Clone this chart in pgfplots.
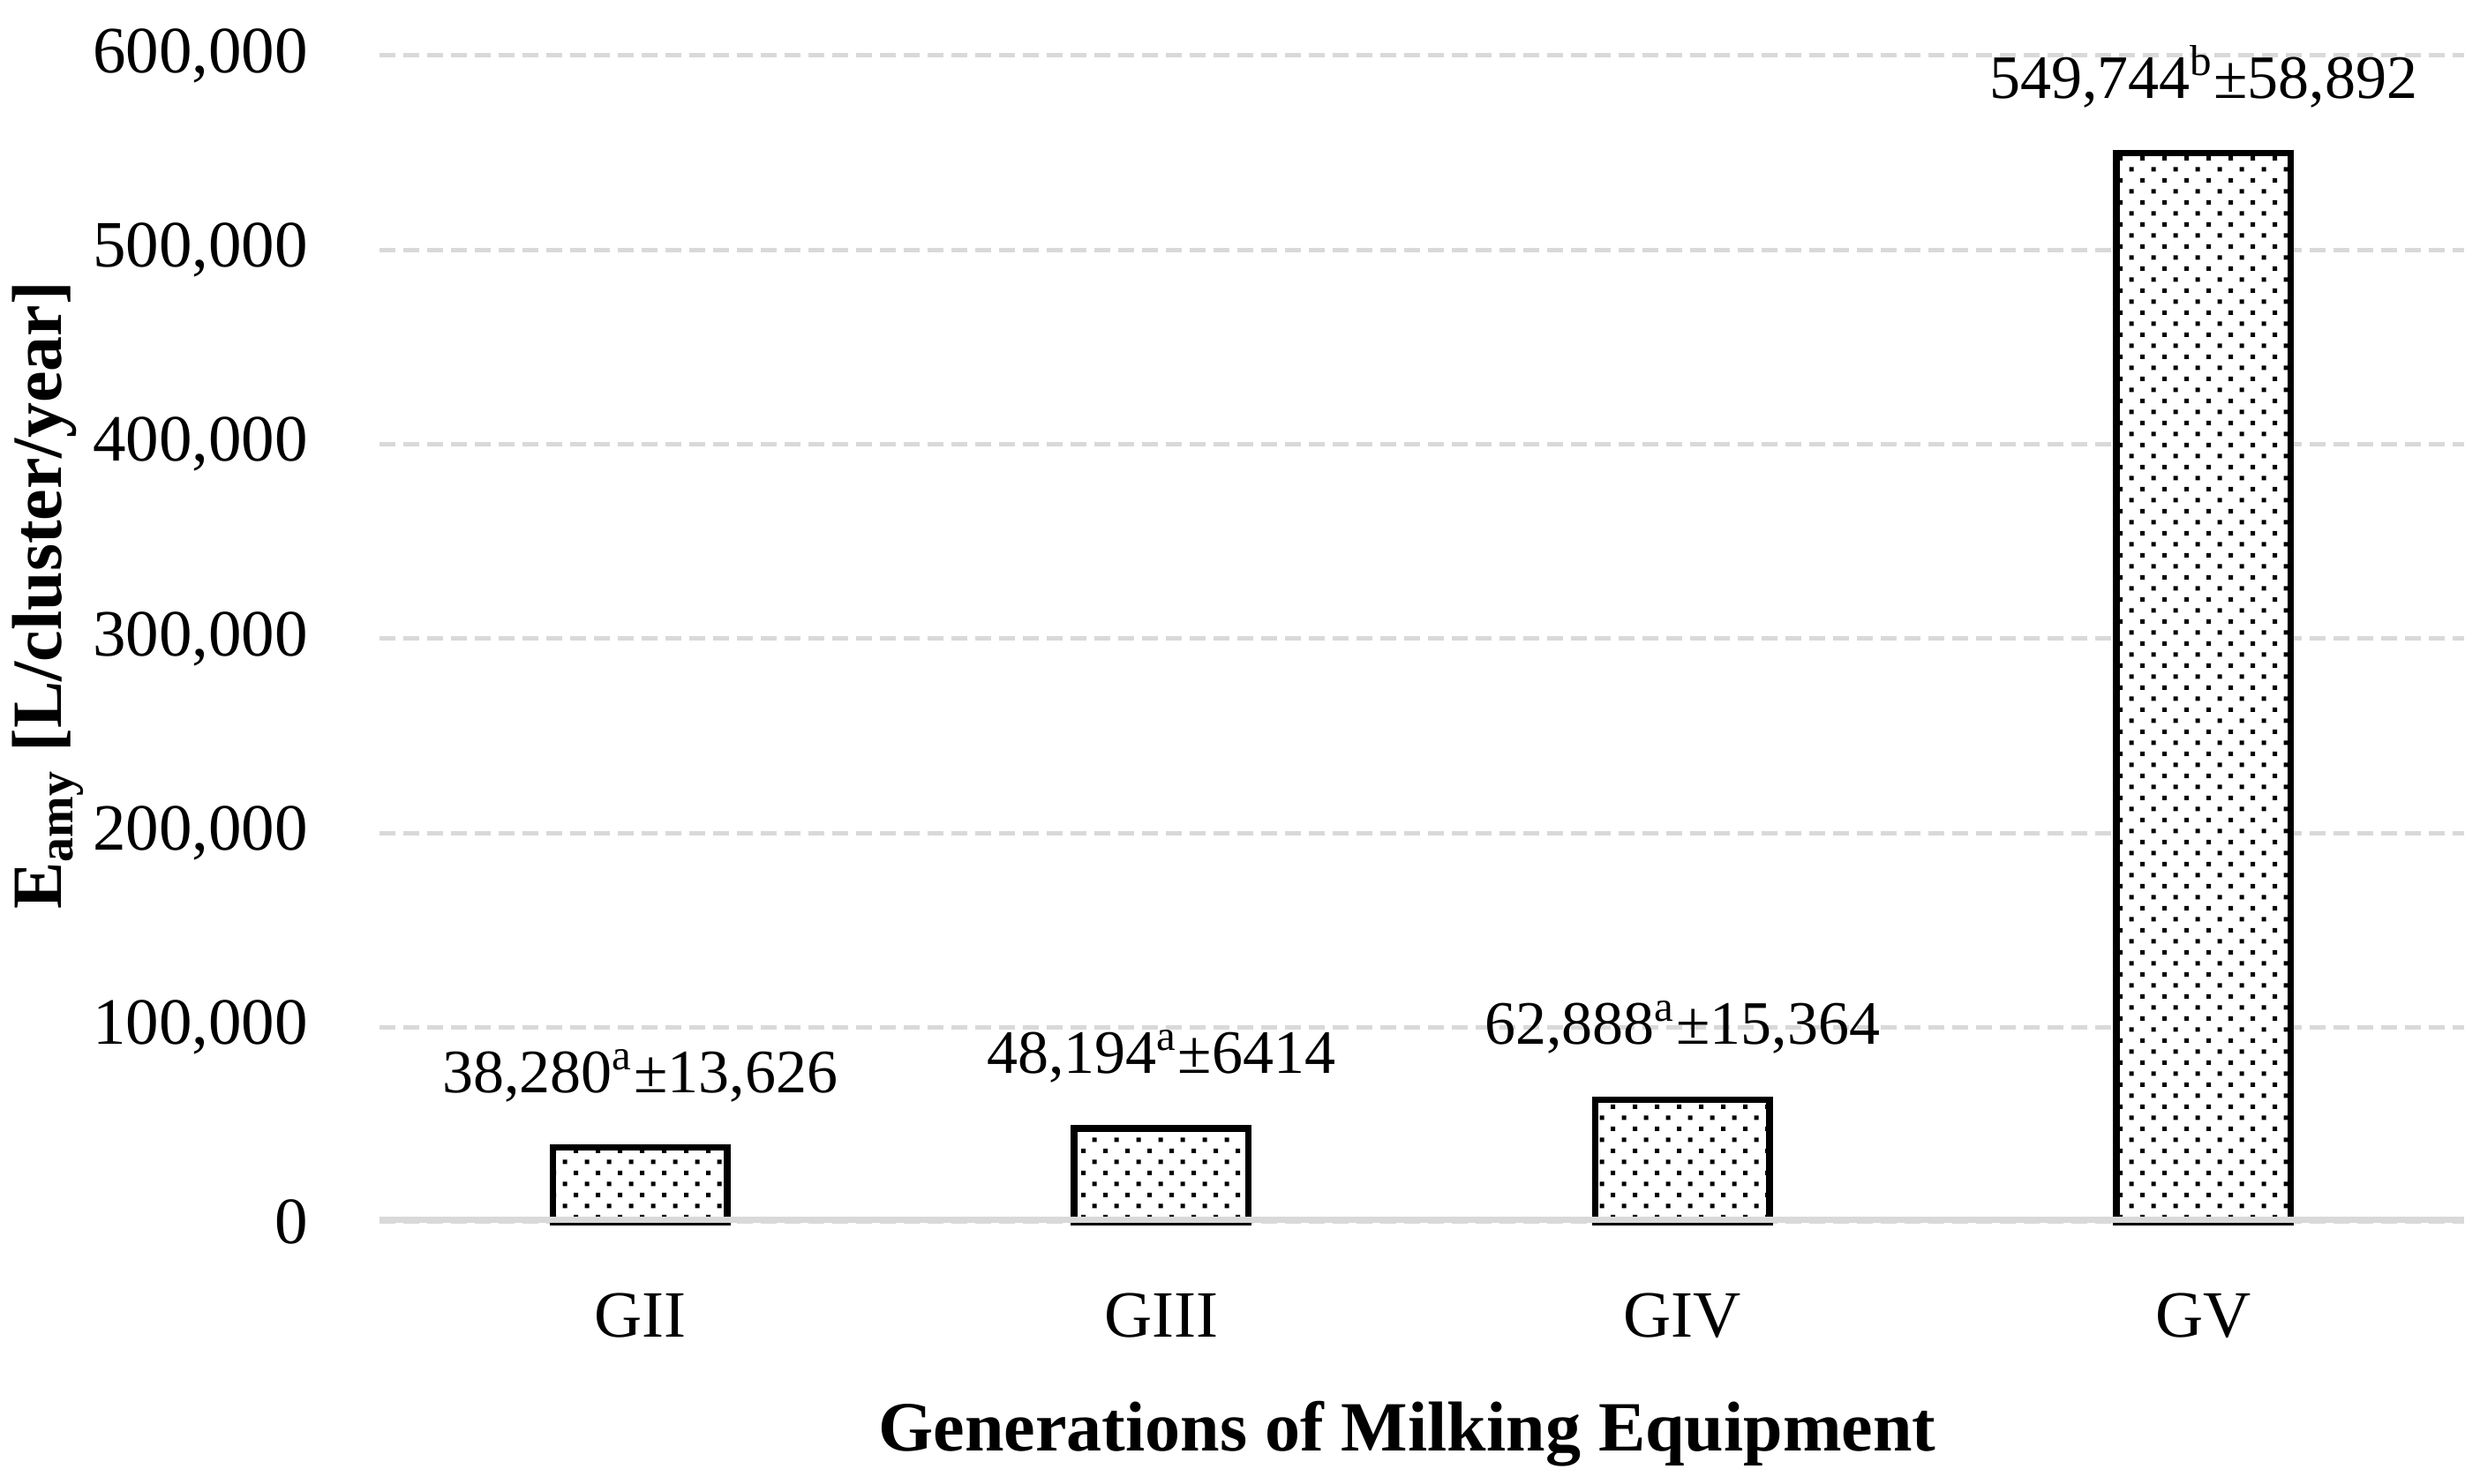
\documentclass[border=0pt]{standalone}
\usepackage{fontspec}
\setmainfont{Liberation Serif}
\usepackage{pgfplots}
\pgfplotsset{compat=1.18}
\usetikzlibrary{patterns}
\pgfdeclarepatternformonly{mydots}{\pgfqpoint{-0.5pt}{-0.5pt}}{\pgfqpoint{5.5pt}{5.5pt}}{\pgfqpoint{5pt}{5pt}}{%
 \pgfpathrectangle{\pgfqpoint{0pt}{0pt}}{\pgfqpoint{1pt}{1pt}}%
 \pgfpathrectangle{\pgfqpoint{2.5pt}{2.5pt}}{\pgfqpoint{1pt}{1pt}}%
 \pgfusepath{fill}}
\definecolor{gridgray}{HTML}{D9D9D9}
\begin{document}
\begin{tikzpicture}
\path[use as bounding box] (-86pt,-59.4pt) rectangle (476pt,277pt);
\begin{axis}[at={(0,0)}, anchor=south west, scale only axis,
 width=472.4pt, height=264.4pt,
 xmin=-0.5, xmax=3.5, ymin=0, ymax=600000,
 scaled y ticks=false,
 ybar, bar width=39.5pt,
 xtick={0,1,2,3}, xticklabels={GII,GIII,GIV,GV},
 ytick={0,100000,200000,300000,400000,500000,600000},
 yticklabels={0,{100,000},{200,000},{300,000},{400,000},{500,000},{600,000}},
 axis line style={draw=none}, tick style={draw=none},
 ymajorgrids, major grid style={gridgray, line width=1pt, dash pattern=on 3.6pt off 1.8pt},
 ticklabel style={font=\fontsize{15}{18}\selectfont},
 yticklabel style={inner sep=0pt, anchor=east, xshift=-16pt},
 xticklabel style={inner sep=0pt, anchor=base, yshift=-21.8pt},
 xlabel={Generations of Milking Equipment},
 xlabel style={font=\fontsize{16}{19}\selectfont\bfseries, at={(axis description cs:0.493,0)}, anchor=base, yshift=-52pt, inner sep=0pt},
 ylabel={E\textsubscript{amy} [L/cluster/year]},
 ylabel style={font=\fontsize{16}{19}\selectfont\bfseries, at={(axis description cs:-0.1766,0.537)}, anchor=north, inner sep=0pt},
 nodes near coords,
 nodes near coords style={anchor=base, yshift=12.5pt, inner sep=0pt, font=\fontsize{14}{17}\selectfont},
 point meta=explicit symbolic,
 clip=false,
]
\addplot[draw=black, line width=1.5pt, fill=white, postaction={pattern=mydots}, bar shift=0pt]
 table[x=x, y=y, meta=label] {
x y label
0 38280 {38,280\textsuperscript{a}±13,626}
1 48194 {48,194\textsuperscript{a}±6414}
2 62888 {62,888\textsuperscript{a}±15,364}
3 549744 {549,744\textsuperscript{b}±58,892}
};
\draw[gridgray, line width=1.4pt, yshift=0.5pt] (axis cs:-0.5,0) -- (axis cs:3.5,0);
\end{axis}
\end{tikzpicture}
\end{document}
